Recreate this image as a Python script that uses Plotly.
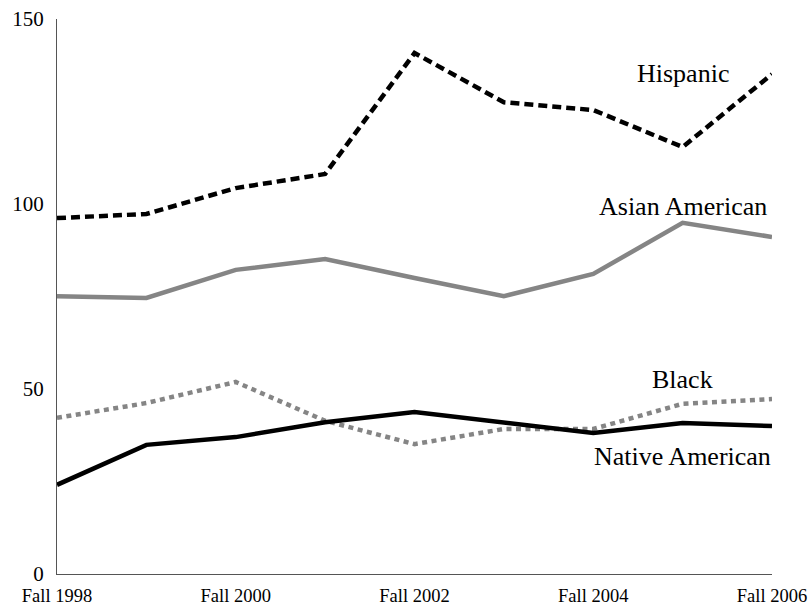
import plotly.graph_objects as go

categories = ["Fall 1998", "Fall 1999", "Fall 2000", "Fall 2001", "Fall 2002",
              "Fall 2003", "Fall 2004", "Fall 2005", "Fall 2006"]
tick_labels = ["Fall 1998", "Fall 2000", "Fall 2002", "Fall 2004", "Fall 2006"]

hispanic = [96.2, 97.3, 104.3, 108.1, 140.8, 127.5, 125.4, 115.4, 135.1]
asian_american = [75.1, 74.6, 82.2, 85.1, 80.0, 75.1, 81.1, 94.9, 91.1]
black = [42.2, 46.2, 51.9, 41.4, 35.1, 39.2, 39.2, 46.0, 47.3]
native_american = [24.1, 34.9, 37.0, 41.0, 43.8, 41.0, 38.1, 40.8, 40.0]

series_names = ["Hispanic", "Asian American", "Black", "Native American"]
label_y = [135.4, 99.2, 52.7, 31.7]

GRAY = "#858585"
FONT = "Liberation Serif, Times New Roman, serif"

fig = go.Figure()
styles = [
    (hispanic, "black", "9px,5px"),
    (asian_american, GRAY, "solid"),
    (black, GRAY, "5px,4.5px"),
    (native_american, "black", "solid"),
]
for name, (vals, color, dash) in zip(series_names, styles):
    fig.add_trace(go.Scatter(
        x=categories, y=vals, mode="lines", name=name,
        line=dict(color=color, width=4.5, dash=dash),
        showlegend=False, hoverinfo="skip",
    ))

for name, yv in zip(series_names, label_y):
    fig.add_annotation(x="Fall 2005", y=yv, text=name, showarrow=False,
                       xanchor="center", yanchor="middle",
                       font=dict(family=FONT, size=26, color="black"))

fig.update_layout(
    width=809, height=606,
    margin=dict(l=57, r=37, t=19, b=32),
    paper_bgcolor="white", plot_bgcolor="white",
    font=dict(family=FONT, color="black"),
    xaxis=dict(
        type="category", range=[0, 8], automargin=False,
        tickmode="array", tickvals=tick_labels, ticktext=tick_labels,
        showgrid=False, zeroline=False,
        showline=True, linecolor="#555555", linewidth=1.2,
        ticks="", tickfont=dict(family=FONT, size=18.5, color="black"),
        ticklabelstandoff=5, ticklabeloverflow="allow",
    ),
    yaxis=dict(
        range=[0, 150], tickvals=[0, 50, 100, 150], automargin=False,
        showgrid=False, zeroline=False,
        showline=True, linecolor="#555555", linewidth=1.2,
        ticks="", tickfont=dict(family=FONT, size=21, color="black"),
        ticklabelstandoff=8, ticklabeloverflow="allow",
    ),
)

fig.write_html("out.html",
               config={"displayModeBar": False},
               post_script="document.body.style.margin='0';document.body.style.overflow='hidden';")
